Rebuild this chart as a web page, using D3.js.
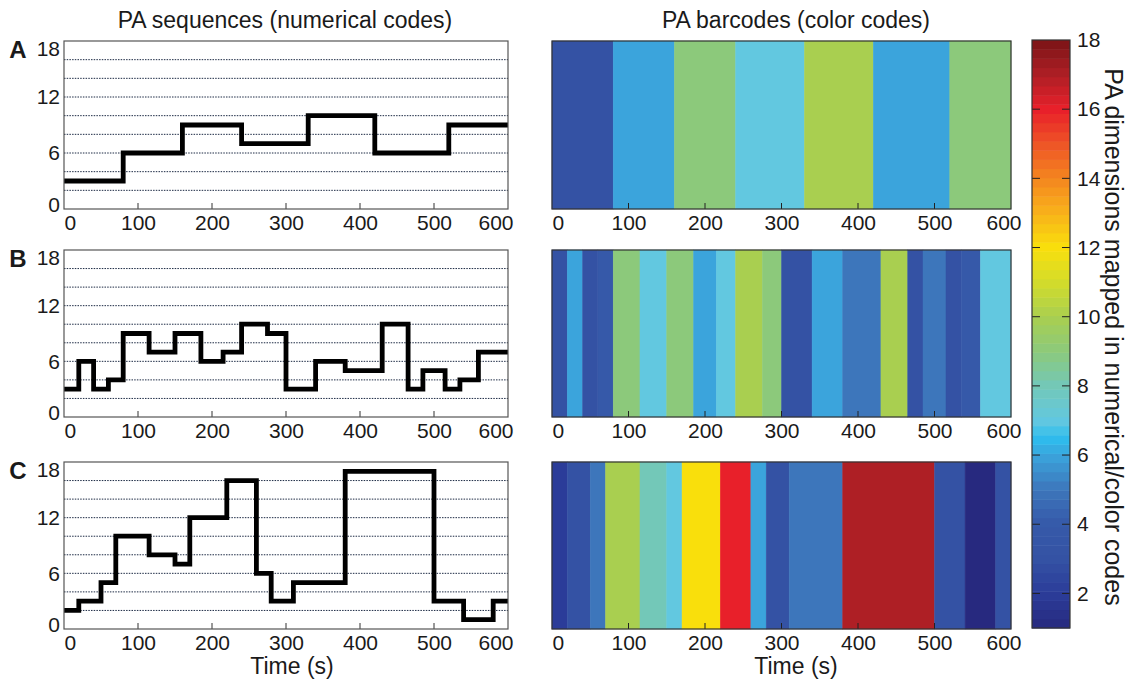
<!DOCTYPE html>
<html>
<head>
<meta charset="utf-8">
<script src="https://d3js.org/d3.v7.min.js"></script>
<title>PA sequences and barcodes</title>
<style>
body {margin:0; background:#fff;}
text {font-family:"Liberation Sans", Arial, sans-serif; fill:#1a1a1a;}
</style>
</head>
<body>
<div id="myDiv"></div>
<script>
// Sequence data: start time of each step (s) and the PA code held until the next one
var timesA = [0, 80, 160, 240, 330, 420, 520, 600];
var codesA = [3, 6, 9, 7, 10, 6, 9];

var timesB = [0, 20, 40, 60, 80, 115, 150, 185, 215, 240, 275, 300, 340, 380, 430, 465, 485, 515, 535, 560, 600];
var codesB = [3, 6, 3, 4, 9, 7, 9, 6, 7, 10, 9, 3, 6, 5, 10, 3, 5, 3, 4, 7];

var timesC = [0, 20, 50, 70, 115, 150, 170, 220, 260, 280, 310, 380, 500, 540, 580, 600];
var codesC = [2, 3, 5, 10, 8, 7, 12, 16, 6, 3, 5, 17, 3, 1, 3];

// axis ticks
var xTicks = [0, 100, 200, 300, 400, 500, 600];
var yTicks = [0, 6, 12, 18];
var gridLevels = [2, 4, 6, 8, 10, 12, 14, 16];
var cbTicks = [2, 4, 6, 8, 10, 12, 14, 16, 18];

// colour codes for PA dimensions 1..18 (+ the bright cyan the colorbar shows near 6.5)
var cmapStops = [1, 2, 3, 4, 5, 6, 6.5, 7, 8, 9, 10, 11, 12, 13, 14, 15, 16, 17, 18];
var cmapColors = ["#27297f", "#2b3c99", "#3452a4", "#3659a9", "#3d76bb", "#3ba4dc", "#2ebdee",
                  "#62c8e0", "#73c8b8", "#8cc97b", "#a9cf50", "#d3dc2b", "#f9df0c", "#f8b21b",
                  "#f4861f", "#ee5426", "#e8202a", "#ae1f25", "#7a1416"];

var cmap = d3.scaleLinear().domain(cmapStops).range(cmapColors).interpolate(d3.interpolateRgb);

var rows = [
  {label:"A", times:timesA, codes:codesA, top:41, bottom:209},
  {label:"B", times:timesB, codes:codesB, top:250, bottom:417},
  {label:"C", times:timesC, codes:codesC, top:462, bottom:629}
];

var svg = d3.select("#myDiv").append("svg")
  .attr("width", 1128)
  .attr("height", 684);

var leftX = d3.scaleLinear().domain([0, 600]).range([64, 508]);
var barX = d3.scaleLinear().domain([0, 600]).range([552, 1011]);

// titles
svg.append("text").attr("x", 285).attr("y", 28).attr("text-anchor", "middle")
  .style("font-size", "23px").text("PA sequences (numerical codes)");
svg.append("text").attr("x", 796).attr("y", 28).attr("text-anchor", "middle")
  .style("font-size", "23px").text("PA barcodes (color codes)");

function xAxisLabels(g, x, endShift) {
  g.call(d3.axisBottom(x).tickValues(xTicks).tickSize(0).tickPadding(6));
  g.select(".domain").remove();
  g.selectAll("text").style("font-size", "21px").attr("fill", "#1a1a1a");
  g.selectAll(".tick").filter(function(d) {return d === 0;}).select("text").attr("text-anchor", "start");
  g.selectAll(".tick").filter(function(d) {return d === 600;}).select("text")
    .attr("text-anchor", "end").attr("dx", endShift);
}

rows.forEach(function(r) {
  var y = d3.scaleLinear().domain([0, 18]).range([r.bottom, r.top]);

  // panel letter
  svg.append("text").attr("x", 18).attr("y", r.top + 17).attr("text-anchor", "middle")
    .style("font-size", "24px").style("font-weight", "bold").text(r.label);

  // ---- left: step plot ----
  var g = svg.append("g");
  g.append("rect").attr("x", 64).attr("y", r.top).attr("width", 444).attr("height", r.bottom - r.top)
    .attr("fill", "#fff");

  g.selectAll(".grid").data(gridLevels).enter().append("line")
    .attr("x1", 64).attr("x2", 508)
    .attr("y1", function(d) {return y(d);}).attr("y2", function(d) {return y(d);})
    .attr("stroke", "#1c2a44").attr("stroke-width", 1).attr("stroke-dasharray", "1.5,1.2");

  var pts = r.codes.map(function(c, i) {return [r.times[i], c];});
  pts.push([r.times[r.times.length - 1], r.codes[r.codes.length - 1]]);
  var line = d3.line().x(function(d) {return leftX(d[0]);}).y(function(d) {return y(d[1]);})
    .curve(d3.curveStepAfter);
  g.append("path").datum(pts).attr("d", line).attr("fill", "none")
    .attr("stroke", "#000").attr("stroke-width", 4.8).attr("stroke-linejoin", "miter");

  g.selectAll(".xt").data(xTicks.slice(1, -1)).enter().append("line")
    .attr("x1", function(d) {return leftX(d);}).attr("x2", function(d) {return leftX(d);})
    .attr("y1", r.bottom).attr("y2", r.bottom - 6).attr("stroke", "#333");

  g.append("rect").attr("x", 64).attr("y", r.top).attr("width", 444).attr("height", r.bottom - r.top)
    .attr("fill", "none").attr("stroke", "#555").attr("stroke-width", 1.2);

  var ya = svg.append("g").attr("transform", "translate(64,0)")
    .call(d3.axisLeft(y).tickValues(yTicks).tickSize(0).tickPadding(4));
  ya.select(".domain").remove();
  ya.selectAll("text").style("font-size", "21px").attr("fill", "#1a1a1a");
  ya.selectAll(".tick").filter(function(d) {return d === 18;}).select("text").attr("dy", "0.7em");
  ya.selectAll(".tick").filter(function(d) {return d === 0;}).select("text").attr("dy", "0.1em");

  xAxisLabels(svg.append("g").attr("transform", "translate(0," + r.bottom + ")"), leftX, 5);

  // ---- right: barcode ----
  var b = svg.append("g");
  b.selectAll("rect.bar").data(r.codes).enter().append("rect")
    .attr("class", "bar")
    .attr("x", function(d, i) {return barX(r.times[i]);})
    .attr("width", function(d, i) {return barX(r.times[i + 1]) - barX(r.times[i]);})
    .attr("y", r.top).attr("height", r.bottom - r.top)
    .attr("fill", function(d) {return cmap(d);})
    .attr("stroke", function(d) {return cmap(d);}).attr("stroke-width", 0.5);

  b.selectAll(".xt").data(xTicks.slice(1, -1)).enter().append("line")
    .attr("x1", function(d) {return barX(d);}).attr("x2", function(d) {return barX(d);})
    .attr("y1", r.bottom).attr("y2", r.bottom - 6).attr("stroke", "#222");

  b.append("rect").attr("x", 552).attr("y", r.top).attr("width", 459).attr("height", r.bottom - r.top)
    .attr("fill", "none").attr("stroke", "#333").attr("stroke-width", 1.2);

  xAxisLabels(svg.append("g").attr("transform", "translate(0," + r.bottom + ")"), barX, 10);
});

// x titles
svg.append("text").attr("x", 292).attr("y", 674).attr("text-anchor", "middle")
  .style("font-size", "23px").text("Time (s)");
svg.append("text").attr("x", 796).attr("y", 674).attr("text-anchor", "middle")
  .style("font-size", "23px").text("Time (s)");

// ---- colorbar ----
var cbY = d3.scaleLinear().domain([1, 18]).range([628, 40]);
var nBands = 64;
var bands = d3.range(nBands).map(function(i) {return 1 + i * 17 / nBands;});
svg.selectAll("rect.cb").data(bands).enter().append("rect")
  .attr("class", "cb")
  .attr("x", 1032).attr("width", 38)
  .attr("y", function(d) {return cbY(d + 17 / nBands);})
  .attr("height", function(d) {return cbY(d) - cbY(d + 17 / nBands) + 0.5;})
  .attr("fill", function(d) {return cmap(d + 17 / nBands / 2);});

svg.selectAll(".cbtl").data(cbTicks.slice(0, -1)).enter().append("line")
  .attr("x1", 1032).attr("x2", 1040)
  .attr("y1", function(d) {return cbY(d);}).attr("y2", function(d) {return cbY(d);})
  .attr("stroke", "#222");
svg.selectAll(".cbtr").data(cbTicks.slice(0, -1)).enter().append("line")
  .attr("x1", 1062).attr("x2", 1070)
  .attr("y1", function(d) {return cbY(d);}).attr("y2", function(d) {return cbY(d);})
  .attr("stroke", "#222");

svg.append("rect").attr("x", 1032).attr("y", 40).attr("width", 38).attr("height", 588)
  .attr("fill", "none").attr("stroke", "#333").attr("stroke-width", 1.2);

var cba = svg.append("g").attr("transform", "translate(1070,0)")
  .call(d3.axisRight(cbY).tickValues(cbTicks).tickSize(0).tickPadding(7));
cba.select(".domain").remove();
cba.selectAll("text").style("font-size", "21px").attr("fill", "#1a1a1a");

svg.append("text")
  .attr("transform", "translate(1105,337) rotate(90)")
  .attr("text-anchor", "middle")
  .style("font-size", "25px")
  .text("PA dimensions mapped in numerical/color codes");
</script>
</body>
</html>
